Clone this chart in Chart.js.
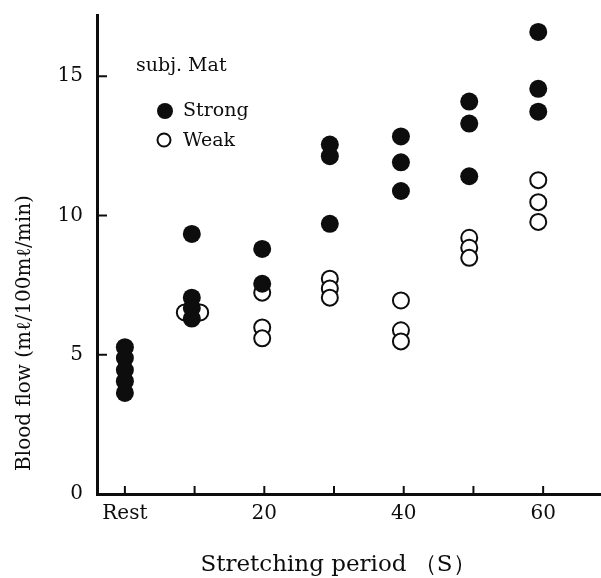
<!DOCTYPE html>
<html>
<head>
<meta charset="utf-8">
<script src="https://cdn.jsdelivr.net/npm/chart.js@4/dist/chart.umd.min.js"></script>
<style>
  body { margin: 0; background: #fff; }
  canvas { display: block; }
</style>
</head>
<body>
<canvas id="myChart" width="601" height="578"></canvas>
<script>
// ticks on the x axis (seconds), "Rest" sits at 0
const xTickValues = [0, 10, 20, 30, 40, 50, 60];
const xTickLabels = { 0: "Rest", 20: "20", 40: "40", 60: "60" };
const yTickValues = [0, 5, 10, 15];

// subj. Mat - strong stretching
const strongX = [0, 0, 0, 0, 0, 9.6, 9.6, 9.6, 9.6, 19.7, 19.7, 29.4, 29.4, 29.4, 39.6, 39.6, 39.6, 49.4, 49.4, 49.4, 59.3, 59.3, 59.3];
const strongY = [5.27, 4.88, 4.45, 4.05, 3.63, 9.34, 7.05, 6.68, 6.3, 8.8, 7.55, 12.55, 12.13, 9.7, 12.84, 11.91, 10.88, 14.09, 13.3, 11.41, 16.59, 14.55, 13.73];

// subj. Mat - weak stretching
const weakX = [8.6, 10.8, 19.7, 19.7, 19.7, 29.4, 29.4, 29.4, 39.6, 39.6, 39.6, 49.4, 49.4, 49.4, 59.3, 59.3, 59.3];
const weakY = [6.52, 6.52, 7.23, 5.98, 5.59, 7.73, 7.38, 7.05, 6.95, 5.88, 5.48, 9.2, 8.84, 8.48, 11.27, 10.48, 9.77];

const ink = "#0d0d0d";
const serif = "'DejaVu Serif', 'Liberation Serif', serif";

Chart.defaults.font.family = serif;
Chart.defaults.color = ink;

const toPoints = (xs, ys) => xs.map((x, i) => ({ x: x, y: ys[i] }));

// inward tick marks, titles and the little legend box
const decorations = {
  id: "decorations",
  afterDraw(chart) {
    const ctx = chart.ctx;
    const xs = chart.scales.x;
    const ys = chart.scales.y;
    const area = chart.chartArea;

    ctx.save();
    ctx.strokeStyle = ink;
    ctx.lineWidth = 2;
    xTickValues.forEach(v => {
      const px = xs.getPixelForValue(v);
      ctx.beginPath();
      ctx.moveTo(px, area.bottom);
      ctx.lineTo(px, area.bottom - 8);
      ctx.stroke();
    });
    yTickValues.forEach(v => {
      if (v === 0) return;
      const py = ys.getPixelForValue(v);
      ctx.beginPath();
      ctx.moveTo(area.left, py);
      ctx.lineTo(area.left + 10, py);
      ctx.stroke();
    });

    // axis titles
    ctx.fillStyle = ink;
    ctx.textAlign = "center";
    ctx.textBaseline = "middle";
    ctx.font = "23px " + serif;
    ctx.fillText("Stretching period （S）", 338, 565);

    ctx.save();
    ctx.translate(25, 333);
    ctx.rotate(-Math.PI / 2);
    ctx.font = "20px " + serif;
    ctx.fillText("Blood flow (mℓ/100mℓ/min)", 0, 0);
    ctx.restore();

    // legend
    ctx.textAlign = "left";
    ctx.font = "19px " + serif;
    ctx.fillText("subj. Mat", 136, 66);
    ctx.fillText("Strong", 183, 111);
    ctx.fillText("Weak", 183, 141);

    ctx.beginPath();
    ctx.arc(165, 111, 8, 0, Math.PI * 2);
    ctx.fill();
    ctx.beginPath();
    ctx.arc(164, 140, 6.5, 0, Math.PI * 2);
    ctx.lineWidth = 2;
    ctx.stroke();
    ctx.restore();
  }
};

const ctx = document.getElementById("myChart");

new Chart(ctx, {
  type: "scatter",
  data: {
    datasets: [
      {
        label: "Strong",
        data: toPoints(strongX, strongY),
        pointRadius: 9,
        pointBorderWidth: 0,
        pointBackgroundColor: ink,
        pointBorderColor: ink,
      },
      {
        label: "Weak",
        data: toPoints(weakX, weakY),
        pointRadius: 8,
        pointBorderWidth: 2,
        pointBackgroundColor: "#fff",
        pointBorderColor: ink,
      },
    ],
  },
  options: {
    responsive: false,
    animation: false,
    layout: { autoPadding: false, padding: { top: 15, left: 0, right: 0, bottom: 0 } },
    plugins: {
      legend: { display: false },
      tooltip: { enabled: false },
    },
    scales: {
      x: {
        type: "linear",
        min: -4,
        max: 68.3,
        grid: { display: false, drawTicks: false },
        border: { display: true, color: ink, width: 3 },
        afterBuildTicks: scale => {
          scale.ticks = xTickValues.map(v => ({ value: v }));
        },
        afterFit: scale => {
          scale.height = 84;
          scale.paddingLeft = 0;
          scale.paddingRight = 0;
        },
        ticks: {
          autoSkip: false,
          maxRotation: 0,
          padding: 8,
          font: { size: 20 },
          color: ink,
          callback: v => xTickLabels[v] || "",
        },
      },
      y: {
        min: 0,
        max: 17.2,
        grid: { display: false, drawTicks: false },
        border: { display: true, color: ink, width: 3 },
        afterBuildTicks: scale => {
          scale.ticks = yTickValues.map(v => ({ value: v }));
        },
        afterFit: scale => {
          scale.width = 97;
          scale.paddingTop = 0;
          scale.paddingBottom = 0;
        },
        ticks: {
          padding: 14,
          font: { size: 20 },
          color: ink,
        },
      },
    },
  },
  plugins: [decorations],
});
</script>
</body>
</html>
